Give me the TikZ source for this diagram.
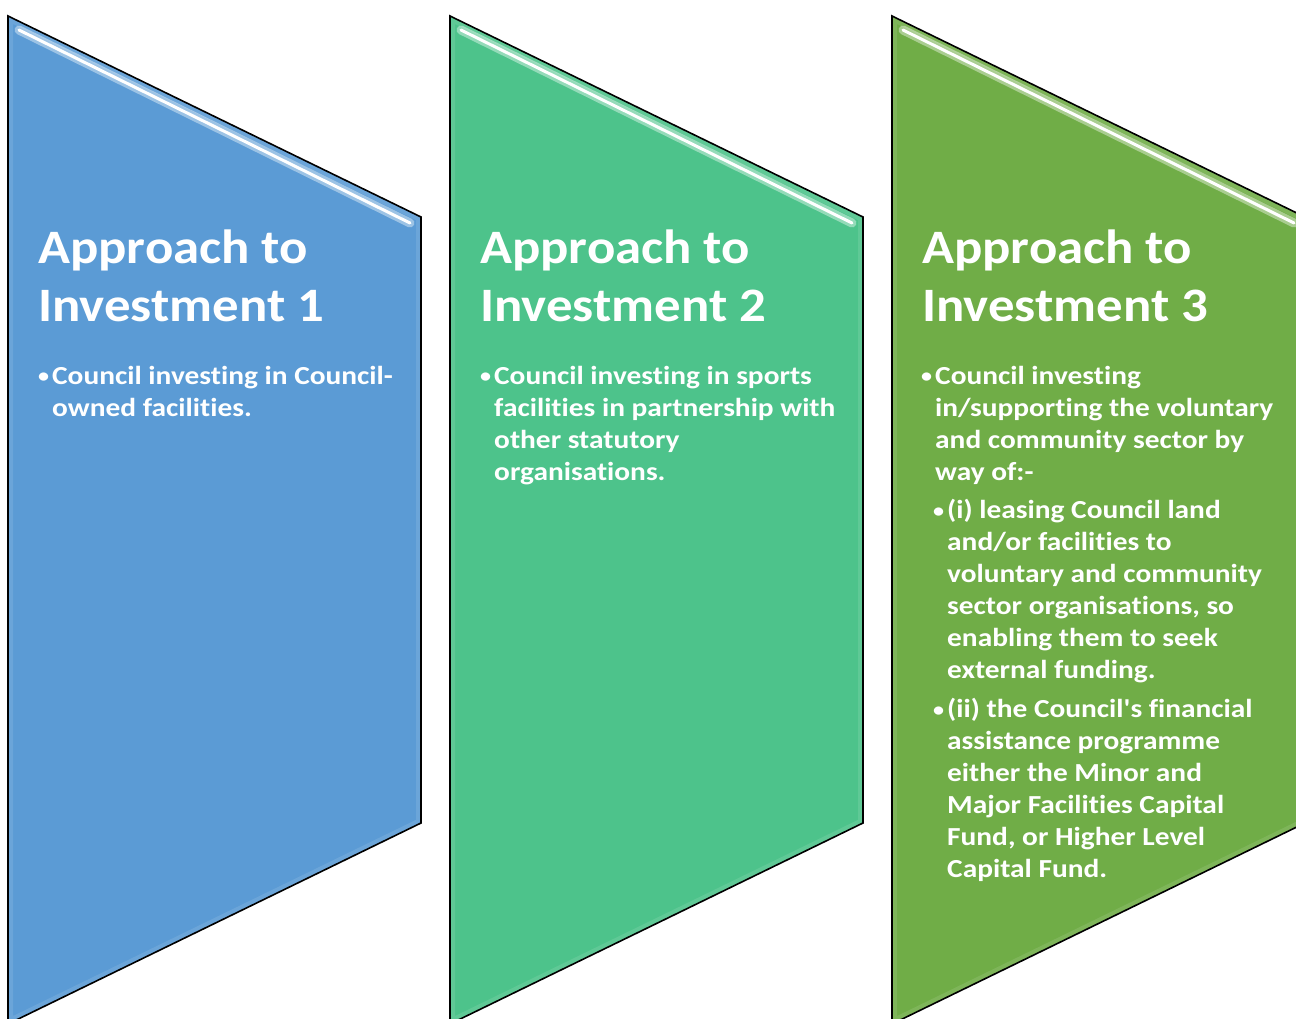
\documentclass[tikz,border=0pt]{standalone}
\usepackage{fontspec}
\newfontfamily\headfont{Carlito}[FakeStretch=1.1, Ligatures={NoCommon}]
\newfontfamily\bodyfont{Carlito}[FakeStretch=1.13, Ligatures={NoCommon}]
\usetikzlibrary{calc}
\definecolor{panelblue}{RGB}{91,155,213}
\definecolor{panelteal}{RGB}{77,195,139}
\definecolor{panelgreen}{RGB}{112,173,71}
\newcommand{\bul}{\llap{\raisebox{1.5pt}{\scalebox{0.75}{\textbullet}}\hspace{3pt}}}

\begin{document}
\begin{tikzpicture}[x=1pt,y=-1pt,
  panel/.style={draw=black, line width=1.6pt, line join=miter},
  glow/.style={draw=white, line width=10pt, opacity=0.1},
  shine/.style={draw=white, line width=3pt, line cap=round},
  halo/.style={draw=white, line width=9pt, line cap=round, opacity=0.4},
  title/.style={anchor=north west, inner sep=0pt, align=left, text=white,
    font=\headfont\fontsize{48}{58}\selectfont\bfseries},
  body/.style={anchor=north west, inner sep=0pt, align=left, text=white,
    font=\bodyfont\fontsize{26}{32}\selectfont\bfseries}]
\useasboundingbox (0,0) rectangle (1296,1019);
\clip (0,0) rectangle (1296,1019);

\coordinate (a1) at (8,16);     % top left
\coordinate (b1) at (421,217);  % top right
\coordinate (c1) at (421,823);  % bottom right
\coordinate (d1) at (8,1024);   % bottom left
\coordinate (a2) at (450,16);
\coordinate (b2) at (863,217);
\coordinate (c2) at (863,823);
\coordinate (d2) at (450,1024);
\coordinate (a3) at (892,16);
\coordinate (b3) at (1305,217);
\coordinate (c3) at (1305,823);
\coordinate (d3) at (892,1024);

% panels
\fill[panelblue]  (a1) -- (b1) -- (c1) -- (d1) -- cycle;
\fill[panelteal]  (a2) -- (b2) -- (c2) -- (d2) -- cycle;
\fill[panelgreen] (a3) -- (b3) -- (c3) -- (d3) -- cycle;

\begin{scope}
\clip (a1) -- (b1) -- (c1) -- (d1) -- cycle;
\draw[glow] (a1) -- (b1) -- (c1) -- (d1) -- cycle;
\end{scope}
\begin{scope}
\clip (a2) -- (b2) -- (c2) -- (d2) -- cycle;
\draw[glow] (a2) -- (b2) -- (c2) -- (d2) -- cycle;
\end{scope}
\begin{scope}
\clip (a3) -- (b3) -- (c3) -- (d3) -- cycle;
\draw[glow] (a3) -- (b3) -- (c3) -- (d3) -- cycle;
\end{scope}

% bevel highlight under the top edge
\draw[halo]  ($(a1)+(11,14)$) -- ($(b1)+(-11,6)$);
\draw[shine] ($(a1)+(11,14)$) -- ($(b1)+(-11,6)$);
\draw[halo]  ($(a2)+(11,14)$) -- ($(b2)+(-11,6)$);
\draw[shine] ($(a2)+(11,14)$) -- ($(b2)+(-11,6)$);
\draw[halo]  ($(a3)+(11,14)$) -- ($(b3)+(-11,6)$);
\draw[shine] ($(a3)+(11,14)$) -- ($(b3)+(-11,6)$);

\draw[panel] (a1) -- (b1) -- (c1) -- (d1) -- cycle;
\draw[panel] (a2) -- (b2) -- (c2) -- (d2) -- cycle;
\draw[panel] (a3) -- (b3) -- (c3) -- (d3) -- cycle;

% titles
\node[title] (t1) at (38,230)  {Approach to\\Investment 1};
\node[title] (t2) at (480,230) {Approach to\\Investment 2};
\node[title] (t3) at (922,230) {Approach to\\Investment 3};

% bullets
\node[body] (p1) at (52,366) {\bul Council investing in Council-\\owned facilities.};
\node[body] (p2) at (494,366) {\bul Council investing in sports\\facilities in partnership with\\other statutory\\organisations.};
\node[body] (p3) at (935,366) {\bul Council investing\\in/supporting the voluntary\\and community sector by\\way of:-};
\node[body] (q3a) at (947,499) {\bul (i) leasing Council land\\and/or facilities to\\voluntary and community\\sector organisations, so\\enabling them to seek\\external funding.};
\node[body] (q3b) at (947,698) {\bul (ii) the Council's financial\\assistance programme\\either the Minor and\\Major Facilities Capital\\Fund, or Higher Level\\Capital Fund.};
\end{tikzpicture}
\end{document}
